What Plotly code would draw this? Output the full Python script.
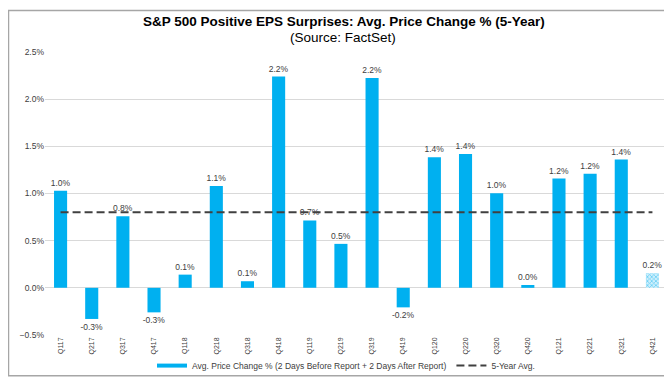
import plotly.graph_objects as go

quarters = ["Q117", "Q217", "Q317", "Q417", "Q118", "Q218", "Q318", "Q418", "Q119", "Q219",
            "Q319", "Q419", "Q120", "Q220", "Q320", "Q420", "Q121", "Q221", "Q321", "Q421"]
price_change = [1.03, -0.33, 0.76, -0.26, 0.14, 1.08, 0.07, 2.24, 0.715, 0.466,
                2.225, -0.207, 1.384, 1.42, 1.003, 0.03, 1.158, 1.21, 1.36, 0.155]
five_year_avg = [0.8] * len(quarters)
partial_quarter = "Q421"

bar_name = "Avg. Price Change % (2 Days Before Report + 2 Days After Report)"
avg_name = "5-Year Avg."

BLUE = "#00B0F0"
TXT = "#404040"
FONT = "Liberation Sans, Arial, sans-serif"

labels = [f"{v:.1f}%" for v in price_change]
patterns = ["x" if q == partial_quarter else "" for q in quarters]

fig = go.Figure()
fig.add_trace(go.Bar(
    x=quarters, y=price_change, text=labels, textposition="outside",
    constraintext="none",
    textfont=dict(size=8.5, color=TXT, family=FONT), cliponaxis=False,
    marker=dict(color=BLUE, line=dict(width=0),
                pattern=dict(shape=patterns, fgcolor=BLUE, bgcolor="#CDEFFC",
                             size=3, solidity=0.45)),
    showlegend=False, name=bar_name,
))
fig.add_trace(go.Scatter(
    x=[None], y=[None], mode="lines", name=bar_name,
    line=dict(color=BLUE, width=4),
))
fig.add_trace(go.Scatter(
    x=quarters, y=five_year_avg, mode="lines", name=avg_name,
    line=dict(color=TXT, width=2, dash="8px,4px"),
))

L, R, T, B = 37, 12, 44, 44
W, H = 672, 384
pw, ph = W - L - R, H - T - B

def px(x):
    return (x - L) / pw

def py(y):
    return (H - B - y) / ph

fig.update_layout(
    width=W, height=H,
    margin=dict(l=L, r=R, t=T, b=B),
    paper_bgcolor="white", plot_bgcolor="white",
    font=dict(family=FONT, color=TXT),
    bargap=0.58,
    annotations=[
        dict(text="<b>S&P 500 Positive EPS Surprises: Avg. Price Change % (5-Year)</b>",
             xref="paper", yref="paper", x=px(336), y=py(12.5), showarrow=False,
             font=dict(size=13.5, color="black", family=FONT), xanchor="center", yanchor="middle"),
        dict(text="(Source: FactSet)",
             xref="paper", yref="paper", x=px(335), y=py(29), showarrow=False,
             font=dict(size=13.5, color="black", family=FONT), xanchor="center", yanchor="middle"),
    ],
    shapes=[dict(type="rect", xref="paper", yref="paper",
                 x0=px(0.5), x1=px(670.5), y0=py(382.5), y1=py(0.5),
                 line=dict(color="#A6A6A6", width=1.5), layer="below")],
    legend=dict(orientation="h", x=px(338), xanchor="center", y=py(372), yanchor="middle",
                font=dict(size=8.5, color=TXT, family=FONT), bgcolor="rgba(0,0,0,0)",
                itemwidth=30, tracegroupgap=0),
    xaxis=dict(tickangle=-90, tickfont=dict(size=7, color=TXT), showgrid=False,
               showline=False, ticks="", categoryorder="array", categoryarray=quarters),
    yaxis=dict(range=[-0.5, 2.5], dtick=0.5, tickformat=".1f", ticksuffix="%",
               showgrid=True, gridcolor="#D9D9D9", gridwidth=1, zeroline=False,
               tickfont=dict(size=8.5, color=TXT), ticks="", showline=False),
)

fig.write_html("out.html")
